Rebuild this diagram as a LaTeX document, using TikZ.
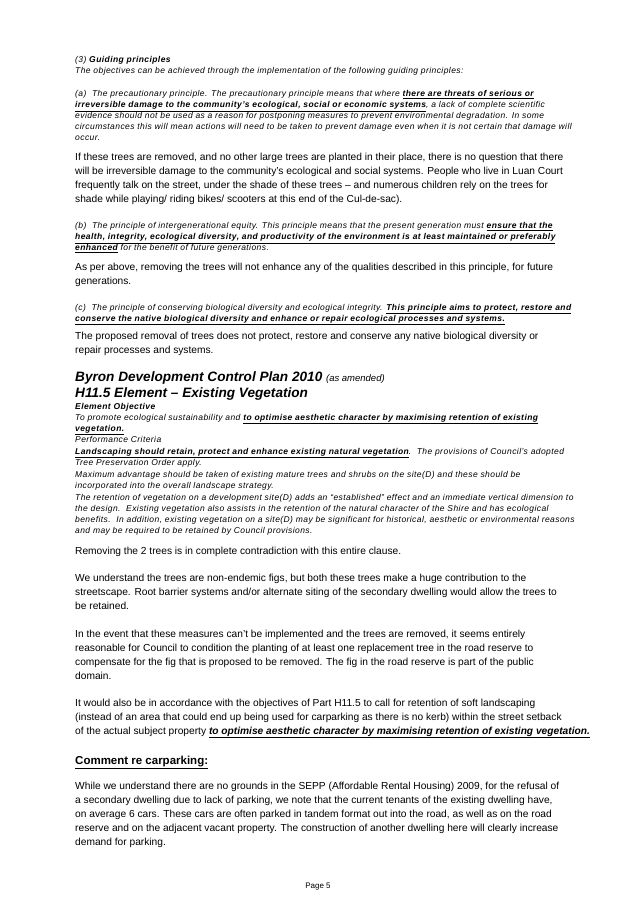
\documentclass[tikz,border=0pt]{standalone}
\usepackage{fontspec}
\setmainfont{Liberation Sans}
\tikzset{
    body/.style = {anchor=base west, inner sep=0pt, font=\fontsize{10.2}{12}\selectfont},
    small/.style = {anchor=base west, inner sep=0pt, font=\fontsize{8.5}{9}\selectfont\itshape\addfontfeature{LetterSpace=5}},
    head/.style = {anchor=base west, inner sep=0pt, font=\fontsize{13.6}{15}\selectfont\bfseries\itshape},
}
\newcommand{\ub}[1]{\underline{\textbf{#1}}}

\begin{document}
\begin{tikzpicture}[x=1pt, y=-1pt]
\useasboundingbox (0,0) rectangle (637,901);
% guiding principles
\node[small] (g1) at (75,63) {(3) \textbf{Guiding principles}};
\node[small] (g2) at (75,74) {The objectives can be achieved through the implementation of the following guiding principles:};
\node[small] (a1) at (75,97) {(a)\ \ The precautionary principle. The precautionary principle means that where \ub{there are threats of serious or}};
\node[small] (a2) at (75,108) {\ub{irreversible damage to the community's ecological, social or economic systems}, a lack of complete scientific};
\node[small] (a3) at (75,119) {evidence should not be used as a reason for postponing measures to prevent environmental degradation. In some};
\node[small] (a4) at (75,130) {circumstances this will mean actions will need to be taken to prevent damage even when it is not certain that damage will};
\node[small] (a5) at (75,141) {occur.};
\node[body] (p1) at (75,161) {If these trees are removed, and no other large trees are planted in their place, there is no question that there};
\node[body] (p2) at (75,175) {will be irreversible damage to the community's ecological and social systems. People who live in Luan Court};
\node[body] (p3) at (75,189) {frequently talk on the street, under the shade of these trees -- and numerous children rely on the trees for};
\node[body] (p4) at (75,203) {shade while playing/ riding bikes/ scooters at this end of the Cul-de-sac).};
\node[small] (b1) at (75,229) {(b)\ \ The principle of intergenerational equity. This principle means that the present generation must \ub{ensure that the}};
\node[small] (b2) at (75,240) {\ub{health, integrity, ecological diversity, and productivity of the environment is at least maintained or preferably}};
\node[small] (b3) at (75,251) {\ub{enhanced} for the benefit of future generations.};
\node[body] (q1) at (75,270) {As per above, removing the trees will not enhance any of the qualities described in this principle, for future};
\node[body] (q2) at (75,284) {generations.};
\node[small] (c1) at (75,310) {(c)\ \ The principle of conserving biological diversity and ecological integrity. \ub{This principle aims to protect, restore and}};
\node[small] (c2) at (75,321) {\ub{conserve the native biological diversity and enhance or repair ecological processes and systems.}};
\node[body] (r1) at (75,339) {The proposed removal of trees does not protect, restore and conserve any native biological diversity or};
\node[body] (r2) at (75,353) {repair processes and systems.};
% development control plan
\node[head] (h1) at (75,381) {Byron Development Control Plan 2010 {\mdseries\fontsize{9.5}{10}\selectfont(as amended)}};
\node[head] (h2) at (75,397) {H11.5 Element -- Existing Vegetation};
\node[small] (e1) at (75,409) {\textbf{Element Objective}};
\node[small] (e2) at (75,420) {To promote ecological sustainability and \ub{to optimise aesthetic character by maximising retention of existing}};
\node[small] (e3) at (75,431) {\ub{vegetation.}};
\node[small] (e4) at (75,442) {Performance Criteria};
\node[small] (e5) at (75,454) {\ub{Landscaping should retain, protect and enhance existing natural vegetation}.\ \ The provisions of Council's adopted};
\node[small] (e6) at (75,465) {Tree Preservation Order apply.};
\node[small] (e7) at (75,477) {Maximum advantage should be taken of existing mature trees and shrubs on the site(D) and these should be};
\node[small] (e8) at (75,488) {incorporated into the overall landscape strategy.};
\node[small] (e9) at (75,500) {The retention of vegetation on a development site(D) adds an ``established'' effect and an immediate vertical dimension to};
\node[small] (e10) at (75,511) {the design.\ \ Existing vegetation also assists in the retention of the natural character of the Shire and has ecological};
\node[small] (e11) at (75,522) {benefits.\ \ In addition, existing vegetation on a site(D) may be significant for historical, aesthetic or environmental reasons};
\node[small] (e12) at (75,533) {and may be required to be retained by Council provisions.};
\node[body] (s1) at (75,554) {Removing the 2 trees is in complete contradiction with this entire clause.};
\node[body] (t1) at (75,581) {We understand the trees are non-endemic figs, but both these trees make a huge contribution to the};
\node[body] (t2) at (75,595) {streetscape. Root barrier systems and/or alternate siting of the secondary dwelling would allow the trees to};
\node[body] (t3) at (75,609) {be retained.};
\node[body] (u1) at (75,637) {In the event that these measures can't be implemented and the trees are removed, it seems entirely};
\node[body] (u2) at (75,651) {reasonable for Council to condition the planting of at least one replacement tree in the road reserve to};
\node[body] (u3) at (75,665) {compensate for the fig that is proposed to be removed. The fig in the road reserve is part of the public};
\node[body] (u4) at (75,679) {domain.};
\node[body] (v1) at (75,706) {It would also be in accordance with the objectives of Part H11.5 to call for retention of soft landscaping};
\node[body] (v2) at (75,720) {(instead of an area that could end up being used for carparking as there is no kerb) within the street setback};
\node[body] (v3) at (75,734) {of the actual subject property \ub{\itshape to optimise aesthetic character by maximising retention of existing vegetation.}};
% carparking
\node[body, font=\fontsize{11.5}{13}\selectfont\bfseries] (k0) at (75,764) {\underline{Comment re carparking:}};
\node[body] (w1) at (75,789) {While we understand there are no grounds in the SEPP (Affordable Rental Housing) 2009, for the refusal of};
\node[body] (w2) at (75,803) {a secondary dwelling due to lack of parking, we note that the current tenants of the existing dwelling have,};
\node[body] (w3) at (75,817) {on average 6 cars. These cars are often parked in tandem format out into the road, as well as on the road};
\node[body] (w4) at (75,831) {reserve and on the adjacent vacant property. The construction of another dwelling here will clearly increase};
\node[body] (w5) at (75,845) {demand for parking.};
\node[body, anchor=base, font=\fontsize{8}{9}\selectfont] (pg) at (318,888) {Page 5};
\end{tikzpicture}
\end{document}
